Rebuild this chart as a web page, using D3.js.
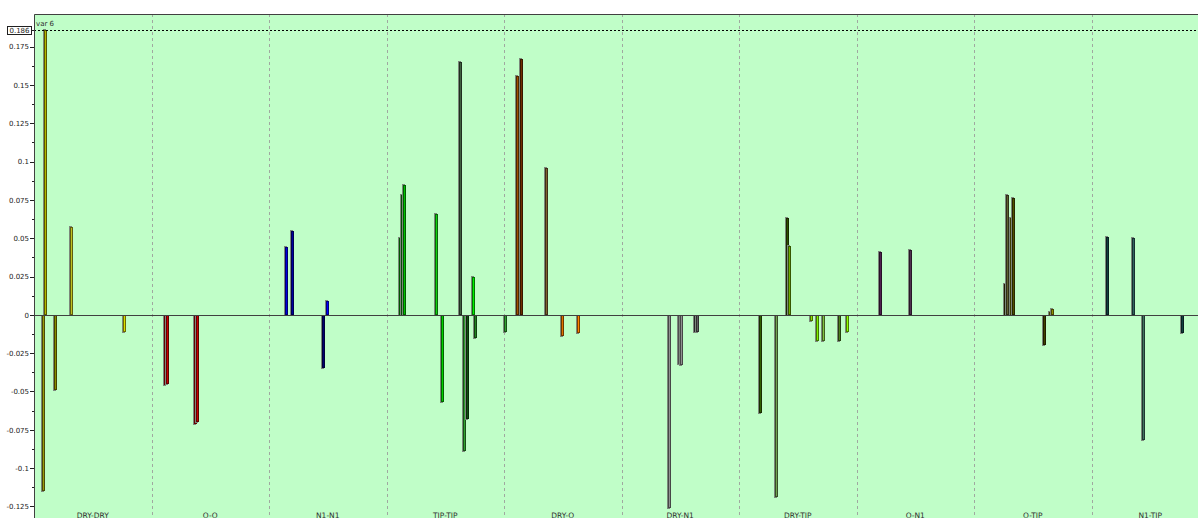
<!DOCTYPE html>
<html>
<head>
<meta charset="utf-8">
<script src="https://cdn.jsdelivr.net/npm/d3@7"></script>
<style>
  html, body { margin: 0; padding: 0; background: #ffffff; overflow: hidden; }
  svg { display: block; }
</style>
</head>
<body>
<svg id="chart" width="1198" height="518"></svg>
<script>
// Pair categories along the x axis
const categories = ["DRY-DRY", "O-O", "N1-N1", "TIP-TIP", "DRY-O", "DRY-N1", "DRY-TIP", "O-N1", "O-TIP", "N1-TIP"];
// Number of series slots inside each category
const seriesCount = 58;

// One entry per bar: category index, series slot, value
const barCategory = [
  0, 0, 0, 0, 0,
  1, 1, 1, 1,
  2, 2, 2, 2,
  3, 3, 3, 3, 3, 3, 3, 3, 3, 3,
  4, 4, 4, 4, 4, 4,
  5, 5, 5, 5, 5,
  6, 6, 6, 6, 6, 6, 6, 6, 6,
  7, 7,
  8, 8, 8, 8, 8, 8, 8,
  9, 9, 9, 9
];
const barSeries = [
  4, 5, 10, 18, 44,
  6, 7, 21, 22,
  8, 11, 26, 28,
  6, 7, 8, 24, 27, 36, 38, 39, 42, 43,
  0, 6, 8, 20, 28, 36,
  23, 28, 29, 36, 37,
  10, 18, 23, 24, 35, 38, 41, 49, 53,
  11, 26,
  15, 16, 18, 19, 34, 37, 38,
  7, 20, 25, 44
];
const barValues = [
  -0.115, 0.186, -0.049, 0.057, -0.011,
  -0.046, -0.045, -0.071, -0.070,
  0.044, 0.055, -0.035, 0.009,
  0.050, 0.078, 0.085, 0.066, -0.057, 0.165, -0.089, -0.068, 0.025, -0.015,
  -0.011, 0.156, 0.167, 0.096, -0.014, -0.012,
  -0.126, -0.032, -0.033, -0.011, -0.011,
  -0.064, -0.119, 0.063, 0.045, -0.004, -0.017, -0.017, -0.017, -0.011,
  0.041, 0.042,
  0.020, 0.078, 0.063, 0.076, -0.020, 0.002, 0.004,
  0.051, 0.050, -0.082, -0.012
];
// Fill colour of each bar, in the same order
const barFills = [
  "#9a9a10", "#b4b400", "#8a8a00", "#c0c020", "#dcdc00",
  "#cc0000", "#c80000", "#cc0000", "#c80000",
  "#0000e0", "#0000a0", "#000070", "#0000ff",
  "#00b000", "#109010", "#00c000", "#10d010", "#00d000", "#406040", "#30a030", "#105010", "#00f000", "#208020",
  "#30a030", "#a05000", "#703000", "#806030", "#e07000", "#ff8000",
  "#909090", "#a0a0a0", "#909090", "#505050", "#606060",
  "#306000", "#70a050", "#305000", "#70b000", "#90e000", "#80f000", "#80c040", "#508020", "#90ff00",
  "#502050", "#503050",
  "#404000", "#606030", "#808000", "#505000", "#404000", "#808000", "#909000",
  "#104040", "#306060", "#407060", "#104040"
];

// Y axis ticks
const yTickValues = [0.175, 0.15, 0.125, 0.1, 0.075, 0.05, 0.025, 0, -0.025, -0.05, -0.075, -0.1, -0.125];
const yTickLabels = ["0.175", "0.15", "0.125", "0.1", "0.075", "0.05", "0.025", "0", "-0.025", "-0.05", "-0.075", "-0.1", "-0.125"];
const yMinorTicks = [0.1625, 0.1375, 0.1125, 0.0875, 0.0625, 0.0375, 0.0125, -0.0125, -0.0375, -0.0625, -0.0875, -0.1125];
const markerValue = 0.186;
const markerLabel = "0.186";
const panelTitle = "var 6";

const plot = { left: 34, top: 14, right: 1209, bottom: 540 };
const fontFamily = "'DejaVu Sans', Verdana, sans-serif";

const svg = d3.select("#chart");

const x = d3.scaleBand().domain(categories).range([plot.left, plot.right]);
const xs = d3.scaleBand().domain(d3.range(seriesCount)).range([0, x.bandwidth()]);
const y = d3.scaleLinear().domain([-0.125, 0.175]).range([506.4, 46.6]);

// plot background
svg.append("rect")
  .attr("x", plot.left).attr("y", plot.top)
  .attr("width", plot.right - plot.left).attr("height", plot.bottom - plot.top)
  .attr("fill", "#c0fec8");

// dashed category separators
svg.append("g").selectAll("line")
  .data(categories.slice(1))
  .join("line")
  .attr("x1", d => Math.round(x(d)) + 0.5)
  .attr("x2", d => Math.round(x(d)) + 0.5)
  .attr("y1", plot.top).attr("y2", plot.bottom)
  .attr("stroke", "#a0a8a0")
  .attr("stroke-width", 1)
  .attr("shape-rendering", "crispEdges")
  .attr("stroke-dasharray", "3,3");

// bars
const bars = barValues.map((v, i) => ({
  cat: categories[barCategory[i]],
  s: barSeries[i],
  v: v,
  fill: barFills[i]
})).sort((a, b) => a.s - b.s);

const y0 = Math.round(y(0));
const barW = Math.round(xs.step() * 1.5);
const gBars = svg.append("g").attr("shape-rendering", "crispEdges");

bars.forEach(b => {
  const bx = Math.round(x(b.cat) + xs(b.s));
  const yv = Math.round(y(b.v));
  const top = Math.min(yv, y0);
  const bot = Math.max(yv, y0);
  // soft grey shadow to the left
  gBars.append("rect")
    .attr("x", bx - 1)
    .attr("y", b.v >= 0 ? top - 1 : top)
    .attr("width", barW)
    .attr("height", Math.max(1, bot - top + 1))
    .attr("fill", "#7c887c");
  // bar body
  gBars.append("rect")
    .attr("x", bx)
    .attr("y", top)
    .attr("width", barW)
    .attr("height", Math.max(1, bot - top))
    .attr("fill", b.fill);
  // dark outline
  gBars.append("rect")
    .attr("x", bx + 0.5)
    .attr("y", top + 0.5)
    .attr("width", barW - 1)
    .attr("height", Math.max(0, bot - top - 1))
    .attr("fill", "none")
    .attr("stroke", d3.color(b.fill).darker(2).formatHex())
    .attr("stroke-width", 1);
});

// zero line
svg.append("line")
  .attr("x1", plot.left).attr("x2", plot.right)
  .attr("y1", y0 + 0.5).attr("y2", y0 + 0.5)
  .attr("stroke", "#404040").attr("stroke-width", 1);

// maximum marker line
const ym = Math.round(y(markerValue)) + 0.5;
svg.append("line")
  .attr("x1", plot.left).attr("x2", plot.right)
  .attr("y1", ym).attr("y2", ym)
  .attr("stroke", "#000000").attr("stroke-width", 1)
  .attr("stroke-dasharray", "2,2");

// plot frame (top and left edges)
svg.append("path")
  .attr("d", `M${plot.left + 0.5},${plot.bottom}V${plot.top + 0.5}H${plot.right}`)
  .attr("fill", "none")
  .attr("stroke", "#404040").attr("stroke-width", 1);

// y axis
const yAxis = d3.axisLeft(y)
  .tickValues(yTickValues)
  .tickFormat((d, i) => yTickLabels[i])
  .tickSize(4)
  .tickPadding(1);
const gAxis = svg.append("g")
  .attr("transform", `translate(${plot.left},0)`)
  .call(yAxis);
gAxis.select(".domain").remove();
gAxis.selectAll(".tick line").attr("stroke", "#202020").attr("shape-rendering", "crispEdges");
gAxis.selectAll(".tick text")
  .attr("font-family", fontFamily)
  .attr("font-size", 7)
  .attr("fill", "#202020");

// minor ticks
gAxis.append("g").selectAll("line")
  .data(yMinorTicks)
  .join("line")
  .attr("x1", -2).attr("x2", 0)
  .attr("y1", d => Math.round(y(d)) + 0.5)
  .attr("y2", d => Math.round(y(d)) + 0.5)
  .attr("stroke", "#202020")
  .attr("shape-rendering", "crispEdges");

// boxed maximum label
gAxis.append("line")
  .attr("x1", -3).attr("x2", 0)
  .attr("y1", ym).attr("y2", ym)
  .attr("stroke", "#202020");
gAxis.append("rect")
  .attr("x", -26.5).attr("y", ym - 4)
  .attr("width", 24).attr("height", 8)
  .attr("fill", "#ffffff")
  .attr("stroke", "#202020").attr("stroke-width", 1);
gAxis.append("text")
  .attr("x", -4.5).attr("y", ym)
  .attr("dy", "0.35em")
  .attr("text-anchor", "end")
  .attr("font-family", fontFamily)
  .attr("font-size", 7)
  .attr("fill", "#202020")
  .text(markerLabel);

// panel title
svg.append("text")
  .attr("x", plot.left + 2).attr("y", plot.top + 11.5)
  .attr("font-family", fontFamily)
  .attr("font-size", 7)
  .attr("fill", "#303030")
  .text(panelTitle);

// category labels
svg.append("g").selectAll("text")
  .data(categories)
  .join("text")
  .attr("x", d => x(d) + x.bandwidth() / 2)
  .attr("y", 517.5)
  .attr("text-anchor", "middle")
  .attr("font-family", fontFamily)
  .attr("font-size", 7.5)
  .attr("fill", "#303030")
  .text(d => d);
</script>
</body>
</html>
